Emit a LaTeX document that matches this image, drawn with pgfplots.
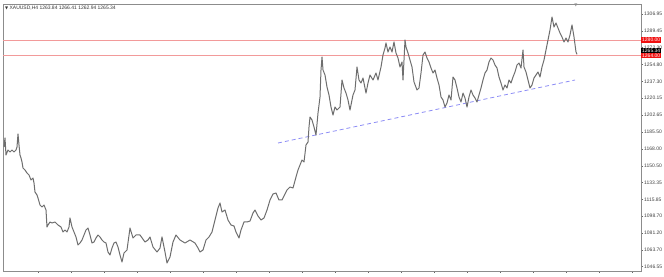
\documentclass[border=0pt]{standalone}
\usepackage{pgfplots}
\pgfplotsset{compat=1.18}
\usepackage{fontspec}
\setmainfont{Liberation Sans}
\newfontfamily\djv{DejaVu Sans}
\definecolor{lvl}{HTML}{F29A9A}
\definecolor{trend}{HTML}{8C8CF5}
\definecolor{price}{HTML}{6E6E6E}
\definecolor{lblred}{HTML}{F01010}
\begin{document}
\begin{tikzpicture}
\begin{axis}[
  at={(0,0)}, anchor=south west,
  scale only axis, width=638bp, height=267bp,
  xmin=3, xmax=641, ymin=1042.11, ymax=1317.26,
  axis line style={draw=black!45, line width=0.7bp},
  xtick={38,71,...,640}, xticklabels={},
  xtick pos=bottom, ytick pos=right, tick align=outside,
  major tick length=2bp,
  tick style={black!60, line width=0.5bp},
  ytick={1306.95,1289.45,1272.30,1254.80,1237.30,1220.15,1202.65,1185.50,1168.00,1150.50,1133.35,1115.85,1098.70,1081.20,1063.70,1046.55},
  yticklabels={1306.95,1289.45,1272.30,1254.80,1237.30,1220.15,1202.65,1185.50,1168.00,1150.50,1133.35,1115.85,1098.70,1081.20,1063.70,1046.55},
  yticklabel style={font=\fontsize{5}{6}\selectfont, text=black!75, inner sep=1bp},
  clip=false,
]
% horizontal levels (1280 and 1264)
\addplot[color=lvl, line width=0.9bp, no marks, forget plot] coordinates {(3,1280) (641,1280)};
\addplot[color=lvl, line width=0.9bp, no marks, forget plot] coordinates {(3,1264.2) (641,1264.2)};
% trend line
\addplot[color=trend, line width=0.8bp, no marks, dash pattern=on 4bp off 3bp] coordinates {(278,1174.01) (575,1238.94)};
% price path (XAUUSD H4)
\addplot[color=price, line width=1bp, no marks, line join=round] table {
x y
4 1169.90
5 1179.17
6 1161.65
8 1166.80
10 1164.74
12 1166.80
14 1164.74
16 1166.80
17 1169.90
18 1183.29
19 1171.96
20 1161.65
21 1158.56
22 1154.44
23 1148.25
25 1146.19
27 1143.10
29 1141.04
31 1135.89
33 1137.95
34 1132.80
35 1123.52
37 1120.43
38 1117.34
40 1110.13
42 1108.07
44 1110.13
46 1104.97
47 1087.45
48 1089.52
50 1092.61
52 1091.58
55 1092.61
58 1089.52
61 1087.45
63 1082.30
65 1084.36
67 1082.30
69 1087.45
70 1096.73
72 1087.45
74 1082.30
76 1077.15
78 1068.90
80 1070.97
82 1074.06
84 1079.21
86 1084.36
88 1086.42
90 1079.21
92 1070.97
94 1072.00
96 1076.12
98 1079.21
100 1077.15
102 1074.06
104 1072.00
106 1070.97
108 1061.69
110 1058.60
112 1065.81
114 1070.97
116 1072.00
118 1066.84
120 1058.60
122 1051.39
124 1060.66
127 1063.75
130 1086.42
133 1076.12
136 1079.21
140 1079.21
145 1072.00
148 1074.06
150 1077.15
153 1066.84
157 1061.69
160 1065.81
162 1077.15
165 1061.69
167 1050.36
170 1056.54
173 1072.00
176 1079.21
180 1074.06
185 1070.97
190 1074.06
195 1070.97
198 1065.81
200 1061.69
203 1063.75
206 1074.06
209 1077.15
212 1082.30
215 1094.67
218 1107.03
220 1112.19
222 1102.91
225 1104.97
228 1094.67
231 1089.52
234 1088.49
236 1082.30
239 1076.12
241 1084.36
244 1092.61
247 1092.61
250 1093.60
253 1101.90
255 1104.97
258 1098.80
261 1094.67
264 1096.73
267 1104.97
270 1115.28
273 1121.46
276 1122.49
279 1115.28
282 1115.28
284 1119.40
287 1125.58
290 1128.67
293 1127.64
296 1138.98
298 1146.19
300 1151.35
302 1156.50
304 1154.44
306 1171.96
308 1175.05
309 1190.50
310 1200.81
312 1197.72
314 1190.50
316 1182.26
318 1204.93
320 1221.42
321 1249.24
322 1262.64
323 1249.24
325 1244.09
327 1231.73
329 1223.48
331 1211.11
333 1202.87
335 1211.11
337 1208.02
340 1211.11
342 1238.94
344 1230.70
346 1225.47
348 1218.33
350 1208.02
353 1223.48
355 1228.63
357 1252.34
359 1238.94
361 1235.85
363 1241.00
366 1225.47
368 1235.85
370 1244.09
373 1238.94
376 1246.15
378 1238.94
381 1252.34
383 1264.70
385 1271.91
386 1277.07
388 1267.79
390 1272.94
392 1267.79
394 1278.10
396 1266.76
398 1261.61
400 1252.34
402 1257.49
403 1238.94
405 1280.16
406 1272.94
408 1266.76
410 1259.55
412 1252.34
414 1236.88
417 1228.63
419 1230.70
421 1246.15
423 1264.70
425 1267.79
427 1261.61
429 1257.49
431 1251.30
433 1246.15
435 1249.24
437 1241.00
439 1233.79
441 1221.42
443 1218.33
445 1211.11
447 1215.24
449 1223.48
451 1218.33
453 1242.03
455 1238.94
457 1230.70
459 1221.42
461 1216.27
463 1225.47
465 1220.39
467 1211.11
469 1221.42
471 1228.63
473 1223.48
475 1220.39
477 1216.27
479 1223.48
481 1230.70
483 1238.94
485 1246.15
487 1249.24
489 1257.49
491 1261.61
493 1259.55
495 1254.40
497 1251.30
499 1242.03
501 1235.85
503 1228.63
505 1233.79
507 1230.70
509 1238.94
511 1235.85
513 1242.03
515 1247.18
517 1254.40
519 1256.46
521 1251.30
523 1269.85
524 1252.34
526 1247.18
528 1238.94
530 1230.70
532 1233.79
534 1241.00
536 1244.09
538 1247.18
540 1242.03
542 1252.34
544 1259.55
546 1269.85
548 1280.16
550 1290.47
552 1303.86
554 1293.55
556 1297.68
558 1292.52
560 1287.37
562 1283.25
564 1278.10
566 1282.22
568 1278.10
570 1285.31
572 1295.62
574 1283.25
576 1267.79
577 1265.34
};
% price labels on the right scale
\node[fill=black, text=white, font=\fontsize{5}{5}\selectfont, inner sep=1bp, anchor=west] at (axis cs:641,1268.6) {1265.34};
\node[fill=lblred, text=white, font=\fontsize{5}{5}\selectfont, inner sep=1bp, anchor=west] at (axis cs:641,1280) {1280.00};
\node[fill=lblred, text=white, font=\fontsize{5}{5}\selectfont, inner sep=1bp, anchor=west] at (axis cs:641,1264) {1264.00};
% title
\node[anchor=north west, inner sep=0, font=\fontsize{5}{6}\selectfont, text=black!80] at (rel axis cs:0,1) [xshift=2bp, yshift=-2bp] {{\djv\fontsize{4}{5}\selectfont ▼}\ XAUUSD,H4 1263.84 1266.41 1262.94 1265.34};
% chart shift marker
\node[anchor=north, inner sep=0, font=\djv\fontsize{4}{4}\selectfont, text=black!45] at (axis cs:576,1317.26) {▼};
\end{axis}
\pgfresetboundingbox
\path (-3bp,-6bp) rectangle (661bp,271bp);
\end{tikzpicture}
\end{document}
